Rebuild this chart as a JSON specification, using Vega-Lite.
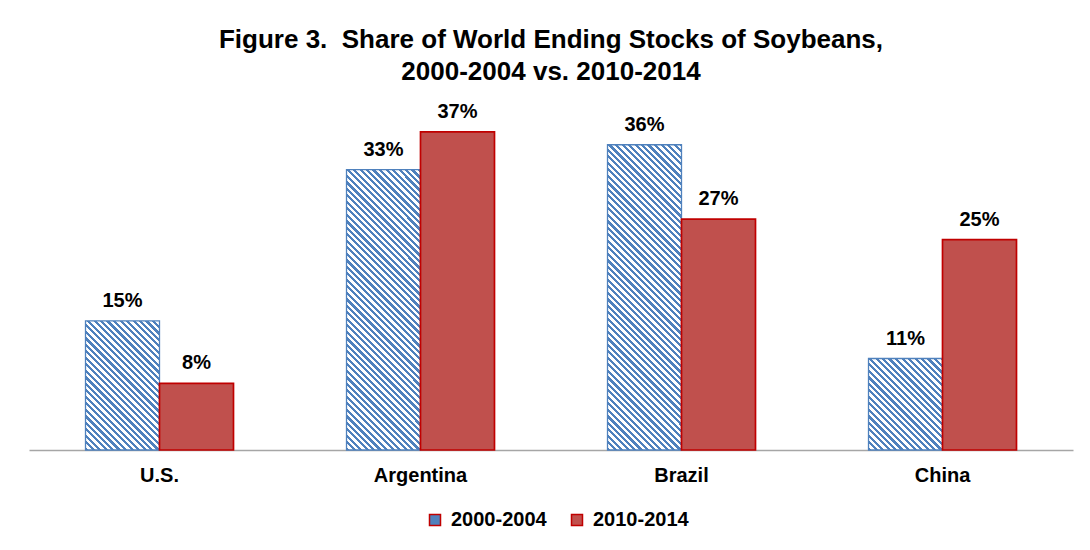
{
"$schema": "https://vega.github.io/schema/vega-lite/v6.json",
"width": 1044,
"height": 342,
"autosize": {"type": "none"},
"padding": {"left": 29, "top": 108, "right": 17, "bottom": 100},
"background": "white",
"config": {"view": {"stroke": null}, "font": "Liberation Sans"},
"params": [{"name": "hatch", "value": [
{"offset":0,"color":"#4f81bd"},
{"offset":0.0083,"color":"#4f81bd"},{"offset":0.0083,"color":"#fff"},{"offset":0.0167,"color":"#fff"},{"offset":0.0167,"color":"#4f81bd"},
{"offset":0.025,"color":"#4f81bd"},{"offset":0.025,"color":"#fff"},{"offset":0.0333,"color":"#fff"},{"offset":0.0333,"color":"#4f81bd"},
{"offset":0.0417,"color":"#4f81bd"},{"offset":0.0417,"color":"#fff"},{"offset":0.05,"color":"#fff"},{"offset":0.05,"color":"#4f81bd"},
{"offset":0.0583,"color":"#4f81bd"},{"offset":0.0583,"color":"#fff"},{"offset":0.0667,"color":"#fff"},{"offset":0.0667,"color":"#4f81bd"},
{"offset":0.075,"color":"#4f81bd"},{"offset":0.075,"color":"#fff"},{"offset":0.0833,"color":"#fff"},{"offset":0.0833,"color":"#4f81bd"},
{"offset":0.0917,"color":"#4f81bd"},{"offset":0.0917,"color":"#fff"},{"offset":0.1,"color":"#fff"},{"offset":0.1,"color":"#4f81bd"},
{"offset":0.1083,"color":"#4f81bd"},{"offset":0.1083,"color":"#fff"},{"offset":0.1167,"color":"#fff"},{"offset":0.1167,"color":"#4f81bd"},
{"offset":0.125,"color":"#4f81bd"},{"offset":0.125,"color":"#fff"},{"offset":0.1333,"color":"#fff"},{"offset":0.1333,"color":"#4f81bd"},
{"offset":0.1417,"color":"#4f81bd"},{"offset":0.1417,"color":"#fff"},{"offset":0.15,"color":"#fff"},{"offset":0.15,"color":"#4f81bd"},
{"offset":0.1583,"color":"#4f81bd"},{"offset":0.1583,"color":"#fff"},{"offset":0.1667,"color":"#fff"},{"offset":0.1667,"color":"#4f81bd"},
{"offset":0.175,"color":"#4f81bd"},{"offset":0.175,"color":"#fff"},{"offset":0.1833,"color":"#fff"},{"offset":0.1833,"color":"#4f81bd"},
{"offset":0.1917,"color":"#4f81bd"},{"offset":0.1917,"color":"#fff"},{"offset":0.2,"color":"#fff"},{"offset":0.2,"color":"#4f81bd"},
{"offset":0.2083,"color":"#4f81bd"},{"offset":0.2083,"color":"#fff"},{"offset":0.2167,"color":"#fff"},{"offset":0.2167,"color":"#4f81bd"},
{"offset":0.225,"color":"#4f81bd"},{"offset":0.225,"color":"#fff"},{"offset":0.2333,"color":"#fff"},{"offset":0.2333,"color":"#4f81bd"},
{"offset":0.2417,"color":"#4f81bd"},{"offset":0.2417,"color":"#fff"},{"offset":0.25,"color":"#fff"},{"offset":0.25,"color":"#4f81bd"},
{"offset":0.2583,"color":"#4f81bd"},{"offset":0.2583,"color":"#fff"},{"offset":0.2667,"color":"#fff"},{"offset":0.2667,"color":"#4f81bd"},
{"offset":0.275,"color":"#4f81bd"},{"offset":0.275,"color":"#fff"},{"offset":0.2833,"color":"#fff"},{"offset":0.2833,"color":"#4f81bd"},
{"offset":0.2917,"color":"#4f81bd"},{"offset":0.2917,"color":"#fff"},{"offset":0.3,"color":"#fff"},{"offset":0.3,"color":"#4f81bd"},
{"offset":0.3083,"color":"#4f81bd"},{"offset":0.3083,"color":"#fff"},{"offset":0.3167,"color":"#fff"},{"offset":0.3167,"color":"#4f81bd"},
{"offset":0.325,"color":"#4f81bd"},{"offset":0.325,"color":"#fff"},{"offset":0.3333,"color":"#fff"},{"offset":0.3333,"color":"#4f81bd"},
{"offset":0.3417,"color":"#4f81bd"},{"offset":0.3417,"color":"#fff"},{"offset":0.35,"color":"#fff"},{"offset":0.35,"color":"#4f81bd"},
{"offset":0.3583,"color":"#4f81bd"},{"offset":0.3583,"color":"#fff"},{"offset":0.3667,"color":"#fff"},{"offset":0.3667,"color":"#4f81bd"},
{"offset":0.375,"color":"#4f81bd"},{"offset":0.375,"color":"#fff"},{"offset":0.3833,"color":"#fff"},{"offset":0.3833,"color":"#4f81bd"},
{"offset":0.3917,"color":"#4f81bd"},{"offset":0.3917,"color":"#fff"},{"offset":0.4,"color":"#fff"},{"offset":0.4,"color":"#4f81bd"},
{"offset":0.4083,"color":"#4f81bd"},{"offset":0.4083,"color":"#fff"},{"offset":0.4167,"color":"#fff"},{"offset":0.4167,"color":"#4f81bd"},
{"offset":0.425,"color":"#4f81bd"},{"offset":0.425,"color":"#fff"},{"offset":0.4333,"color":"#fff"},{"offset":0.4333,"color":"#4f81bd"},
{"offset":0.4417,"color":"#4f81bd"},{"offset":0.4417,"color":"#fff"},{"offset":0.45,"color":"#fff"},{"offset":0.45,"color":"#4f81bd"},
{"offset":0.4583,"color":"#4f81bd"},{"offset":0.4583,"color":"#fff"},{"offset":0.4667,"color":"#fff"},{"offset":0.4667,"color":"#4f81bd"},
{"offset":0.475,"color":"#4f81bd"},{"offset":0.475,"color":"#fff"},{"offset":0.4833,"color":"#fff"},{"offset":0.4833,"color":"#4f81bd"},
{"offset":0.4917,"color":"#4f81bd"},{"offset":0.4917,"color":"#fff"},{"offset":0.5,"color":"#fff"},{"offset":0.5,"color":"#4f81bd"},
{"offset":0.5083,"color":"#4f81bd"},{"offset":0.5083,"color":"#fff"},{"offset":0.5167,"color":"#fff"},{"offset":0.5167,"color":"#4f81bd"},
{"offset":0.525,"color":"#4f81bd"},{"offset":0.525,"color":"#fff"},{"offset":0.5333,"color":"#fff"},{"offset":0.5333,"color":"#4f81bd"},
{"offset":0.5417,"color":"#4f81bd"},{"offset":0.5417,"color":"#fff"},{"offset":0.55,"color":"#fff"},{"offset":0.55,"color":"#4f81bd"},
{"offset":0.5583,"color":"#4f81bd"},{"offset":0.5583,"color":"#fff"},{"offset":0.5667,"color":"#fff"},{"offset":0.5667,"color":"#4f81bd"},
{"offset":0.575,"color":"#4f81bd"},{"offset":0.575,"color":"#fff"},{"offset":0.5833,"color":"#fff"},{"offset":0.5833,"color":"#4f81bd"},
{"offset":0.5917,"color":"#4f81bd"},{"offset":0.5917,"color":"#fff"},{"offset":0.6,"color":"#fff"},{"offset":0.6,"color":"#4f81bd"},
{"offset":0.6083,"color":"#4f81bd"},{"offset":0.6083,"color":"#fff"},{"offset":0.6167,"color":"#fff"},{"offset":0.6167,"color":"#4f81bd"},
{"offset":0.625,"color":"#4f81bd"},{"offset":0.625,"color":"#fff"},{"offset":0.6333,"color":"#fff"},{"offset":0.6333,"color":"#4f81bd"},
{"offset":0.6417,"color":"#4f81bd"},{"offset":0.6417,"color":"#fff"},{"offset":0.65,"color":"#fff"},{"offset":0.65,"color":"#4f81bd"},
{"offset":0.6583,"color":"#4f81bd"},{"offset":0.6583,"color":"#fff"},{"offset":0.6667,"color":"#fff"},{"offset":0.6667,"color":"#4f81bd"},
{"offset":0.675,"color":"#4f81bd"},{"offset":0.675,"color":"#fff"},{"offset":0.6833,"color":"#fff"},{"offset":0.6833,"color":"#4f81bd"},
{"offset":0.6917,"color":"#4f81bd"},{"offset":0.6917,"color":"#fff"},{"offset":0.7,"color":"#fff"},{"offset":0.7,"color":"#4f81bd"},
{"offset":0.7083,"color":"#4f81bd"},{"offset":0.7083,"color":"#fff"},{"offset":0.7167,"color":"#fff"},{"offset":0.7167,"color":"#4f81bd"},
{"offset":0.725,"color":"#4f81bd"},{"offset":0.725,"color":"#fff"},{"offset":0.7333,"color":"#fff"},{"offset":0.7333,"color":"#4f81bd"},
{"offset":0.7417,"color":"#4f81bd"},{"offset":0.7417,"color":"#fff"},{"offset":0.75,"color":"#fff"},{"offset":0.75,"color":"#4f81bd"},
{"offset":0.7583,"color":"#4f81bd"},{"offset":0.7583,"color":"#fff"},{"offset":0.7667,"color":"#fff"},{"offset":0.7667,"color":"#4f81bd"},
{"offset":0.775,"color":"#4f81bd"},{"offset":0.775,"color":"#fff"},{"offset":0.7833,"color":"#fff"},{"offset":0.7833,"color":"#4f81bd"},
{"offset":0.7917,"color":"#4f81bd"},{"offset":0.7917,"color":"#fff"},{"offset":0.8,"color":"#fff"},{"offset":0.8,"color":"#4f81bd"},
{"offset":0.8083,"color":"#4f81bd"},{"offset":0.8083,"color":"#fff"},{"offset":0.8167,"color":"#fff"},{"offset":0.8167,"color":"#4f81bd"},
{"offset":0.825,"color":"#4f81bd"},{"offset":0.825,"color":"#fff"},{"offset":0.8333,"color":"#fff"},{"offset":0.8333,"color":"#4f81bd"},
{"offset":0.8417,"color":"#4f81bd"},{"offset":0.8417,"color":"#fff"},{"offset":0.85,"color":"#fff"},{"offset":0.85,"color":"#4f81bd"},
{"offset":0.8583,"color":"#4f81bd"},{"offset":0.8583,"color":"#fff"},{"offset":0.8667,"color":"#fff"},{"offset":0.8667,"color":"#4f81bd"},
{"offset":0.875,"color":"#4f81bd"},{"offset":0.875,"color":"#fff"},{"offset":0.8833,"color":"#fff"},{"offset":0.8833,"color":"#4f81bd"},
{"offset":0.8917,"color":"#4f81bd"},{"offset":0.8917,"color":"#fff"},{"offset":0.9,"color":"#fff"},{"offset":0.9,"color":"#4f81bd"},
{"offset":0.9083,"color":"#4f81bd"},{"offset":0.9083,"color":"#fff"},{"offset":0.9167,"color":"#fff"},{"offset":0.9167,"color":"#4f81bd"},
{"offset":0.925,"color":"#4f81bd"},{"offset":0.925,"color":"#fff"},{"offset":0.9333,"color":"#fff"},{"offset":0.9333,"color":"#4f81bd"},
{"offset":0.9417,"color":"#4f81bd"},{"offset":0.9417,"color":"#fff"},{"offset":0.95,"color":"#fff"},{"offset":0.95,"color":"#4f81bd"},
{"offset":0.9583,"color":"#4f81bd"},{"offset":0.9583,"color":"#fff"},{"offset":0.9667,"color":"#fff"},{"offset":0.9667,"color":"#4f81bd"},
{"offset":0.975,"color":"#4f81bd"},{"offset":0.975,"color":"#fff"},{"offset":0.9833,"color":"#fff"},{"offset":0.9833,"color":"#4f81bd"},
{"offset":0.9917,"color":"#4f81bd"},{"offset":0.9917,"color":"#fff"},{"offset":1,"color":"#fff"}
]}],
"title": {
  "text": ["Figure 3.\u00a0 Share of World Ending Stocks of Soybeans,", "2000-2004 vs. 2010-2014"],
  "font": "Liberation Sans", "fontSize": 26, "fontWeight": "bold", "color": "#000",
  "lineHeight": 32, "anchor": "middle", "frame": "group", "offset": 17
},
"data": {"values": [
  {"country": "U.S.", "period": "2000-2004", "share": 0.151},
  {"country": "U.S.", "period": "2010-2014", "share": 0.078},
  {"country": "Argentina", "period": "2000-2004", "share": 0.328},
  {"country": "Argentina", "period": "2010-2014", "share": 0.372},
  {"country": "Brazil", "period": "2000-2004", "share": 0.357},
  {"country": "Brazil", "period": "2010-2014", "share": 0.270},
  {"country": "China", "period": "2000-2004", "share": 0.107},
  {"country": "China", "period": "2010-2014", "share": 0.246}
]},
"encoding": {
  "x": {"field": "country", "type": "nominal", "sort": ["U.S.", "Argentina", "Brazil", "China"],
    "scale": {"paddingInner": 0.433, "paddingOuter": 0.2165},
    "axis": {"title": null, "labelAngle": 0, "labelFont": "Liberation Sans", "labelFontSize": 20, "labelFontWeight": "bold", "labelColor": "#000", "labelPadding": 15, "ticks": false, "domainColor": "#a6a6a6", "domainWidth": 1.3}},
  "xOffset": {"field": "period", "type": "nominal", "sort": ["2000-2004", "2010-2014"], "scale": {"paddingInner": 0, "paddingOuter": 0}},
  "y": {"field": "share", "type": "quantitative", "scale": {"domain": [0, 0.4], "nice": false}, "axis": null}
},
"layer": [
  {
    "mark": {"type": "bar"},
    "encoding": {
      "fill": {
        "field": "period", "type": "nominal",
        "scale": {"domain": ["2000-2004", "2010-2014"], "range": ["#4f81bd", "#c0504d"]},
        "condition": [
          {"test": "datum.country === 'U.S.' && datum.period === '2000-2004'", "value": {"expr": "{gradient: 'linear', x1: 0, y1: 1, x2: 1.3033, y2: -1.2738, stops: hatch}"}},
          {"test": "datum.country === 'Argentina' && datum.period === '2000-2004'", "value": {"expr": "{gradient: 'linear', x1: 0, y1: 1, x2: 0.34307, y2: -0.30014, stops: hatch}"}},
          {"test": "datum.country === 'Brazil' && datum.period === '2000-2004'", "value": {"expr": "{gradient: 'linear', x1: 0, y1: 1, x2: 0.29257, y2: -0.20678, stops: hatch}"}},
          {"test": "datum.country === 'China' && datum.period === '2000-2004'", "value": {"expr": "{gradient: 'linear', x1: 0, y1: 1, x2: 2.0844, y2: -1.577, stops: hatch}"}}
        ],
        "legend": {
          "title": null, "orient": "none", "legendX": 396, "legendY": 402, "direction": "horizontal", "symbolType": "square", "symbolSize": 121,
          "labelFont": "Liberation Sans", "labelFontSize": 20, "labelFontWeight": "bold", "labelColor": "#000",
          "columnPadding": 20, "labelOffset": 6, "symbolStrokeWidth": 1.5, "symbolOpacity": 1,
          "encode": {"symbols": {
            "enter": {
              "fill": [{"test": "datum.value === '2000-2004'", "signal": "{gradient: 'linear', x1: 0, y1: 1, x2: 12, y2: -11, stops: hatch}"}, {"value": "#c0504d"}]
            },
            "update": {
              "fill": [{"test": "datum.value === '2000-2004'", "signal": "{gradient: 'linear', x1: 0, y1: 1, x2: 12, y2: -11, stops: hatch}"}, {"value": "#c0504d"}],
              "stroke": [{"test": "datum.value === '2000-2004'", "value": "#4f81bd"}, {"value": "#c00000"}]
            }
          }}
        }
      },
      "stroke": {"condition": {"test": "datum.period === '2000-2004'", "value": "#4f81bd"}, "value": "#c00000"},
      "strokeWidth": {"condition": {"test": "datum.period === '2000-2004'", "value": 1.3}, "value": 1.7}
    }
  },
  {
    "mark": {"type": "text", "baseline": "alphabetic", "dy": -14, "font": "Liberation Sans", "fontSize": 20, "fontWeight": "bold", "color": "#000"},
    "encoding": {"text": {"field": "share", "type": "quantitative", "format": ".0%"}}
  }
]
}
